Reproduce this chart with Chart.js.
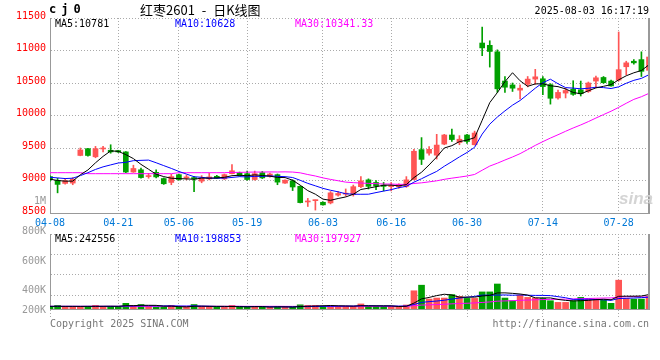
<!DOCTYPE html>
<html>
<head>
<meta charset="utf-8">
<script src="https://cdn.jsdelivr.net/npm/chart.js@4.4.0/dist/chart.umd.min.js"></script>
<style>
body { margin: 0; background: #fff; }
#box { position: relative; width: 660px; height: 360px; overflow: hidden; }
#box canvas { position: absolute; left: 0; }
.t { position: absolute; white-space: pre; font-family: 'DejaVu Sans Mono', monospace; font-size: 10px; line-height: 12px; }
.r { text-align: right; width: 46px; left: 0; color: #999; }
</style>
</head>
<body>
<div id="box">
  <canvas id="kChart" width="660" height="230" style="top:0"></canvas>
  <canvas id="vChart" width="660" height="130" style="top:230px"></canvas>

  <div class="t" style="left:49px;top:3px;font-size:12px;font-weight:bold;letter-spacing:5px">cj0</div>
  <div class="t" style="left:140px;top:2px;font-family:'Noto Sans CJK SC';font-size:13px;line-height:16px;word-spacing:4px">红枣2601 - 日K线图</div>
  <div class="t" style="right:11px;top:5px">2025-08-03 16:17:19</div>

  <div class="t" style="left:55px;top:18px;color:#000">MA5:10781</div>
  <div class="t" style="left:175px;top:18px;color:#0000ff">MA10:10628</div>
  <div class="t" style="left:295px;top:18px;color:#ff00ff">MA30:10341.33</div>

  <div class="t" style="left:619px;top:190px;font-family:'Liberation Sans';font-size:17px;line-height:18px;font-weight:bold;font-style:italic;color:#d4d4d4">sina</div>

  <div class="t r" style="top:195px">1M</div>
  <div class="t r" style="top:225px">800K</div>
  <div class="t r" style="top:255px">600K</div>
  <div class="t r" style="top:284px">400K</div>
  <div class="t r" style="top:304px">200K</div>

  <div class="t" style="left:55px;top:233px;color:#000">MA5:242556</div>
  <div class="t" style="left:175px;top:233px;color:#0000ff">MA10:198853</div>
  <div class="t" style="left:295px;top:233px;color:#ff00ff">MA30:197927</div>

  <div class="t" style="left:50px;top:318px;color:#777">Copyright 2025 SINA.COM</div>
  <div class="t" style="right:11px;top:318px;color:#777">http://finance.sina.com.cn</div>
</div>

<script>
var mono = 'DejaVu Sans Mono';
var upColor = '#ff5555';
var downColor = '#00a000';
var gridColor = '#aaaaaa';
var edgeColor = '#999999';

var dates = [
  '04-08','04-09','04-10','04-11','04-14','04-15','04-16','04-17','04-18','04-21',
  '04-22','04-23','04-24','04-25','04-28','04-29','04-30','05-06','05-07','05-08',
  '05-09','05-12','05-13','05-14','05-15','05-16','05-19','05-20','05-21','05-22',
  '05-23','05-26','05-27','05-28','05-29','05-30','06-03','06-04','06-05','06-06',
  '06-09','06-10','06-11','06-12','06-13','06-16','06-17','06-18','06-19','06-20',
  '06-23','06-24','06-25','06-26','06-27','06-30','07-01','07-02','07-03','07-04',
  '07-07','07-08','07-09','07-10','07-11','07-14','07-15','07-16','07-17','07-18',
  '07-21','07-22','07-23','07-24','07-25','07-28','07-29','07-30','07-31','08-01'
];
var tickDates = ['04-08','04-21','05-06','05-19','06-03','06-16','06-30','07-14','07-28'];

var openP = [
  9060,9000,8955,8960,9385,9490,9365,9485,9465,9460,
  9440,9130,9165,9060,9125,9030,8970,9090,9040,9045,
  8990,9025,9065,9025,9105,9120,9105,9015,9120,9065,
  9090,8960,8995,8910,8670,8690,8665,8655,8775,8790,
  8785,8905,9010,8970,8930,8905,8905,8910,9015,9475,
  9420,9390,9560,9700,9585,9700,9550,11115,11080,10980,
  10530,10470,10390,10480,10560,10565,10475,10270,10345,10405,
  10395,10370,10530,10585,10530,10545,10750,10835,10860,10695
];
var highP = [
  9070,9035,9030,9045,9500,9495,9525,9525,9550,9465,
  9445,9235,9190,9110,9165,9040,9095,9100,9085,9060,
  9075,9115,9080,9100,9245,9130,9145,9145,9140,9115,
  9100,9010,9010,8915,8725,8700,8670,8830,8830,8870,
  8930,9060,9025,9000,8970,8970,8950,9060,9480,9660,
  9520,9710,9710,9790,9690,9710,9760,11360,11150,11010,
  10600,10500,10470,10600,10710,10600,10490,10390,10420,10535,
  10530,10515,10605,10600,10545,11285,10835,10860,10980,11020
];
var lowP = [
  8990,8810,8945,8935,9380,9375,9350,9440,9420,9430,
  9120,9125,9035,9035,9040,8940,8935,9005,9010,8830,
  8965,9010,9030,9015,9100,9065,9005,9005,9030,9050,
  8935,8955,8845,8655,8600,8545,8620,8640,8760,8760,
  8760,8890,8870,8860,8840,8840,8880,8895,9010,9245,
  9390,9330,9550,9600,9550,9570,9545,10920,10745,10355,
  10355,10370,10255,10440,10480,10320,10175,10250,10270,10310,
  10300,10355,10430,10495,10450,10530,10625,10790,10600,10660
];
var closeP = [
  9015,8940,8995,9020,9470,9385,9490,9490,9440,9440,
  9130,9185,9045,9065,9055,8950,9060,9015,9045,9025,
  9040,9055,9035,9090,9150,9075,9015,9105,9040,9100,
  8975,9005,8900,8660,8680,8700,8625,8810,8800,8800,
  8905,8995,8910,8915,8910,8915,8935,9010,9450,9325,
  9480,9545,9700,9630,9635,9600,9730,11040,10985,10410,
  10435,10420,10420,10560,10595,10445,10265,10355,10385,10325,
  10335,10500,10580,10505,10455,10705,10810,10810,10680,10900
];

var ma5 = [
  9020,9000,8990,8990,9088,9162,9272,9371,9455,9449,
  9398,9337,9248,9173,9096,9060,9035,9029,9025,9019,
  9037,9036,9040,9049,9074,9081,9073,9087,9077,9067,
  9047,9045,9004,8928,8844,8789,8713,8695,8723,8747,
  8788,8862,8882,8905,8927,8929,8917,8937,9044,9127,
  9240,9362,9500,9536,9598,9622,9659,9927,10198,10353,
  10520,10658,10534,10449,10486,10488,10457,10444,10409,10355,
  10333,10380,10425,10449,10475,10549,10611,10657,10692,10781
];
var ma10 = [
  9050,9040,9030,9035,9075,9120,9170,9210,9240,9269,
  9280,9305,9310,9314,9273,9229,9186,9139,9099,9058,
  9049,9036,9035,9037,9047,9059,9055,9064,9063,9071,
  9064,9059,9046,9003,8956,8918,8879,8850,8826,8796,
  8789,8788,8789,8814,8837,8859,8890,8910,8975,9027,
  9085,9140,9219,9290,9363,9431,9511,9714,9867,9976,
  10071,10159,10231,10324,10420,10504,10558,10489,10429,10421,
  10411,10419,10435,10429,10415,10441,10496,10541,10571,10628
];
var ma30 = [
  9120,9120,9120,9120,9120,9105,9105,9105,9105,9105,
  9105,9105,9105,9105,9105,9105,9105,9120,9120,9120,
  9120,9120,9120,9120,9125,9125,9128,9130,9130,9132,
  9131,9133,9130,9118,9092,9069,9040,9017,8996,8975,
  8967,8961,8956,8951,8946,8945,8941,8941,8954,8964,
  8979,8995,9018,9036,9052,9069,9093,9158,9222,9266,
  9315,9362,9413,9476,9540,9598,9653,9704,9757,9808,
  9855,9906,9961,10014,10066,10125,10188,10248,10289,10341.33
];

// volume, in thousands
var vol = [
  35,60,40,40,45,40,60,45,45,35,
  95,60,75,45,30,30,60,30,30,75,
  45,45,30,30,60,30,30,45,30,30,
  45,30,30,70,60,60,50,55,45,45,
  45,85,45,45,45,45,30,67,306,400,
  167,184,184,242,212,178,178,287,287,420,
  184,139,232,195,184,178,139,111,111,139,
  195,167,167,150,95,484,178,167,167,217
];
var vma5 = [
  45,45,45,45,44,45,45,46,47,45,
  56,56,62,62,61,48,48,39,36,45,
  48,45,45,45,42,39,36,39,39,33,
  36,36,33,41,47,50,54,59,54,51,
  48,55,53,53,53,53,42,46,99,170,
  194,225,248,235,198,200,199,219,228,270,
  271,263,252,234,187,186,186,161,145,136,
  139,145,156,164,155,213,215,215,218,242.556
];
var vma10 = [
  44,44,44,44,44,44,44,44,44,44.5,
  50.5,50.5,54,54.5,53,52,52,50.5,49,53,
  48,46.5,42,40.5,43.5,43.5,40.5,42,42,37.5,
  37.5,36,36,40,40,43,45,46,47.5,49,
  49,54.5,56,53.5,52,50.5,48.5,49.7,75.8,111.3,
  123.5,133.4,147.3,167,183.7,197,211.8,233.8,231.9,233.9,
  235.6,231.1,235.9,231.2,228.4,228.4,224.5,206.9,189.3,161.2,
  162.3,165.1,158.6,154.1,145.2,175.8,179.7,185.3,190.9,198.853
];
var vma30 = [
  45,45,45,45,45,45,45,45,45,45,
  45,45,45,45,45,45,45,45,45,45,
  45,45,45,45,45,45,45,45,45,45,
  45.3,44.3,44,45,45.5,46.2,45.8,46.2,46.2,46.5,
  44.8,45.7,44.7,44.7,45.2,45.7,44.7,45.9,55.1,65.9,
  70,74.6,79.8,86.8,91.9,96.8,101.8,109.8,118.4,131.4,
  136,139.7,146.4,150.6,154.7,158.6,161.6,163.5,165.7,168.8,
  173.8,176.5,180.6,184.1,185.8,200.4,205.3,208.7,204,197.927
];

var priceMin = 8500, priceMax = 11500, priceStep = 500;
var volMax = 1260, volGridStep = 343;

function candleColors() {
  return openP.map(function(o, i) {
    return closeP[i] >= o ? upColor : downColor;
  });
}

function maLine(data, color) {
  return {
    type: 'line',
    data: data,
    borderColor: color,
    borderWidth: 1,
    pointRadius: 0,
    fill: false,
    tension: 0,
    clip: 0,
    order: 0
  };
}

function keepDateTicks(s) {
  s.ticks = s.ticks.filter(function(t) {
    return tickDates.indexOf(dates[t.value]) >= 0;
  });
}

// right side of the frame is solid, like the sina picture
var rightEdge = {
  id: 'rightEdge',
  afterDraw: function(chart) {
    var a = chart.chartArea;
    var ctx = chart.ctx;
    ctx.save();
    ctx.strokeStyle = edgeColor;
    ctx.lineWidth = 2;
    ctx.beginPath();
    ctx.moveTo(a.right, a.top);
    ctx.lineTo(a.right, a.bottom);
    ctx.stroke();
    ctx.restore();
  }
};

var colors = candleColors();

var kChart = new Chart(document.getElementById('kChart').getContext('2d'), {
  type: 'bar',
  data: {
    labels: dates,
    datasets: [{
      data: lowP.map(function(l, i) { return [l, highP[i]]; }),
      backgroundColor: colors,
      barThickness: 1,
      grouped: false,
      clip: 0,
      order: 2
    }, {
      data: openP.map(function(o, i) { return [o, closeP[i]]; }),
      backgroundColor: colors,
      barThickness: 5,
      minBarLength: 1,
      grouped: false,
      clip: 0,
      order: 1
    },
    maLine(ma5, '#000000'),
    maLine(ma10, '#0000ff'),
    maLine(ma30, '#ff00ff')]
  },
  options: {
    responsive: false,
    animation: false,
    events: [],
    layout: { padding: { left: 0, right: 11, top: 18, bottom: 0 } },
    plugins: { legend: { display: false }, tooltip: { enabled: false } },
    scales: {
      x: {
        type: 'category',
        offset: false,
        grid: { color: gridColor, offset: false, drawTicks: false },
        border: { color: edgeColor, dash: [1, 2] },
        ticks: { autoSkip: false, maxRotation: 0, color: '#0078d7', padding: 4, font: { family: mono, size: 10 } },
        afterBuildTicks: keepDateTicks,
        afterFit: function(s) { s.height = 17; }
      },
      y: {
        min: priceMin,
        max: priceMax,
        grid: { color: gridColor, drawTicks: false },
        border: { color: edgeColor, dash: [1, 2] },
        ticks: {
          stepSize: priceStep,
          color: '#ff0000',
          padding: 4,
          labelOffset: -2,
          font: { family: mono, size: 10 },
          callback: function(v) { return String(v); }
        },
        afterFit: function(s) { s.width = 50; }
      }
    }
  },
  plugins: [rightEdge]
});

var vChart = new Chart(document.getElementById('vChart').getContext('2d'), {
  type: 'bar',
  data: {
    labels: dates,
    datasets: [{
      data: vol,
      backgroundColor: colors,
      barThickness: 6,
      grouped: false,
      clip: 0,
      order: 1
    },
    maLine(vma5, '#000000'),
    maLine(vma10, '#0000ff'),
    maLine(vma30, '#ff00ff')]
  },
  options: {
    responsive: false,
    animation: false,
    events: [],
    layout: { padding: { left: 0, right: 11, top: 4, bottom: 42 } },
    plugins: { legend: { display: false }, tooltip: { enabled: false } },
    scales: {
      x: {
        type: 'category',
        offset: false,
        grid: { color: gridColor, offset: false, drawTicks: true, tickLength: 9, tickBorderDash: [1, 2] },
        border: { color: edgeColor, dash: [1, 2] },
        ticks: { display: false, autoSkip: false },
        afterBuildTicks: keepDateTicks,
        afterFit: function(s) { s.height = 9; }
      },
      y: {
        min: 0,
        max: volMax,
        grid: { color: gridColor, drawTicks: false },
        border: { color: edgeColor, dash: [1, 2] },
        ticks: { display: false },
        afterBuildTicks: function(s) {
          var t = [];
          for (var v = volMax; v > 0; v -= volGridStep) t.push({ value: v });
          s.ticks = t;
        },
        afterFit: function(s) { s.width = 50; }
      }
    }
  },
  plugins: [rightEdge]
});
</script>
</body>
</html>
